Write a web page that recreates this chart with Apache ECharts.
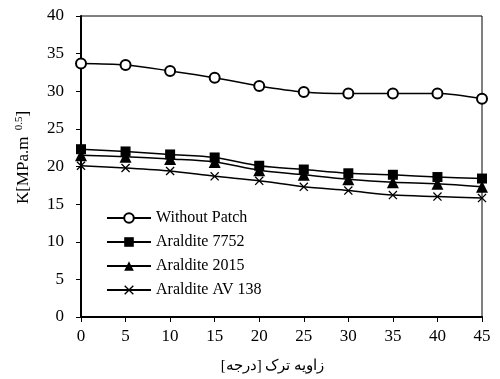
<!DOCTYPE html>
<html>
<head>
<meta charset="utf-8">
<script src="https://cdn.jsdelivr.net/npm/echarts@6/dist/echarts.min.js"></script>
<style>
  html, body { margin: 0; padding: 0; background: #fff; }
  #chart { width: 500px; height: 379px; }
</style>
</head>
<body>
<div id="chart"></div>
<script>
// Crack angle (degrees)
const angles = [0, 5, 10, 15, 20, 25, 30, 35, 40, 45];

// Stress intensity factor K [MPa.m^0.5]
const withoutPatch = [33.7, 33.5, 32.7, 31.8, 30.7, 29.9, 29.7, 29.7, 29.7, 29.0];
const araldite7752 = [22.3, 22.0, 21.6, 21.2, 20.1, 19.6, 19.1, 18.9, 18.6, 18.4];
const araldite2015 = [21.5, 21.3, 21.0, 20.6, 19.5, 18.9, 18.3, 17.9, 17.7, 17.3];
const aralditeAV138 = [20.1, 19.8, 19.4, 18.7, 18.1, 17.3, 16.8, 16.2, 16.0, 15.8];

const seriesNames = ['Without Patch', 'Araldite 7752', 'Araldite 2015', 'Araldite AV 138'];
const yTicks = [0, 5, 10, 15, 20, 25, 30, 35, 40];

const crossPath = 'path://M0,1L1,0L5,4L9,0L10,1L6,5L10,9L9,10L5,6L1,10L0,9L4,5Z';
const serif = 'Liberation Serif';

function pairs(vals) {
  return angles.map((a, i) => [a, vals[i]]);
}

function makeSeries(name, vals, symbol, size) {
  const hollow = symbol === 'emptyCircle';
  return {
    name: name,
    type: 'line',
    data: pairs(vals),
    smooth: 0.3,
    symbol: symbol,
    symbolSize: size,
    showAllSymbol: true,
    lineStyle: { color: '#000', width: 1.5 },
    itemStyle: { color: '#000', borderColor: '#000', borderWidth: hollow ? 1.5 : 0 },
    emphasis: { disabled: true },
    z: 3
  };
}

const chart = echarts.init(document.getElementById('chart'), null, { renderer: 'canvas' });

chart.setOption({
  animation: false,
  backgroundColor: '#fff',
  textStyle: { fontFamily: serif, color: '#000' },
  grid: {
    left: 81, right: 18, top: 16, bottom: 62,
    show: true, borderColor: '#000', borderWidth: 1
  },
  legend: {
    orient: 'vertical',
    left: 101,
    top: 205,
    itemWidth: 44,
    itemHeight: 12,
    itemGap: 8,
    data: seriesNames,
    textStyle: { fontFamily: serif, fontSize: 16, color: '#000' },
    selectedMode: false
  },
  xAxis: {
    type: 'value',
    min: 0, max: 45, interval: 5,
    name: 'زاویه ترک [درجه]',
    nameLocation: 'middle',
    nameGap: 42,
    nameTextStyle: { fontFamily: serif, fontSize: 15, color: '#000', padding: [0, 18, 0, 0] },
    axisLine: { lineStyle: { color: '#000', width: 2 } },
    axisTick: { inside: false, length: 5, lineStyle: { color: '#000', width: 1 } },
    axisLabel: { fontFamily: serif, fontSize: 17, color: '#000', margin: 11 },
    splitLine: { show: false }
  },
  yAxis: {
    type: 'value',
    min: 0, max: 40, interval: 5,
    name: '{a|K[MPa.m }{b|0.5}{a|]}',
    nameLocation: 'middle',
    nameGap: 48,
    nameRotate: 90,
    nameTextStyle: {
      padding: [0, 0, 0, 18],
      rich: {
        a: { fontFamily: serif, fontSize: 17, color: '#000' },
        b: { fontFamily: serif, fontSize: 11, color: '#000', verticalAlign: 'top', padding: [0, 0, 8, 2] }
      }
    },
    axisLine: { show: true, lineStyle: { color: '#000', width: 2 } },
    axisTick: { show: true, inside: false, length: 5, lineStyle: { color: '#000', width: 1 } },
    axisLabel: {
      fontFamily: serif, fontSize: 17, color: '#000', margin: 17,
      formatter: v => (yTicks.includes(v) ? String(v) : '')
    },
    splitLine: { show: false }
  },
  series: [
    makeSeries(seriesNames[0], withoutPatch, 'emptyCircle', 10),
    makeSeries(seriesNames[1], araldite7752, 'rect', 10),
    makeSeries(seriesNames[2], araldite2015, 'triangle', 12),
    makeSeries(seriesNames[3], aralditeAV138, crossPath, 9)
  ]
});
</script>
</body>
</html>
